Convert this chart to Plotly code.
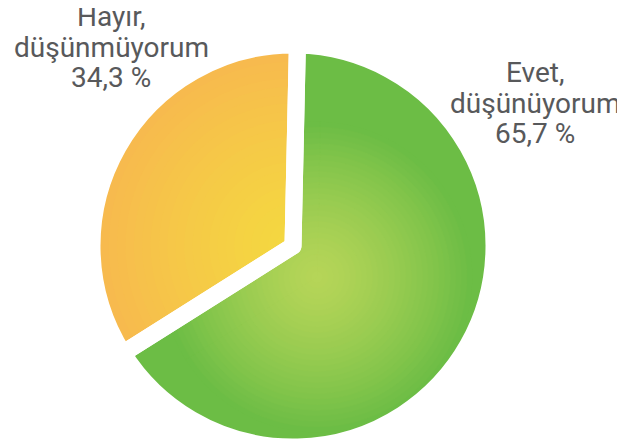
import plotly.graph_objects as go

# ---- data ----
labels = ["Evet, düşünüyorum", "Hayır, düşünmüyorum"]
values = [65.7, 34.3]
label_lines = [["Evet,", "düşünüyorum", "65,7 %"], ["Hayır,", "düşünmüyorum", "34,3 %"]]

W, H = 625, 446
OFF = 8              # page body margin offset
C = (293 - OFF, 246 - OFF)    # pie centre (px, figure coords)
R = 201              # outer radius (px)
GAP = 17             # white gap width
CG = (317 - OFF, 277 - OFF)   # green highlight centre
ROT = 1.25

green_in, green_out = (182, 213, 88), (108, 189, 69)
yel_in, yel_out = (244, 216, 64), (247, 186, 78)
TRANSP = "rgba(0,0,0,0)"


def rgb(c):
    return "rgb(%d,%d,%d)" % tuple(int(round(v)) for v in c)


def mix(a, b, t):
    return tuple(a[i] + (b[i] - a[i]) * t for i in range(3))


def dom(cx, cy, r):
    return dict(x=[max(0, (cx - r) / W), min(1, (cx + r) / W)],
                y=[max(0, (H - cy - r) / H), min(1, (H - cy + r) / H)])


def pie(cx, cy, r, colors, line_color=None, line_width=0):
    return go.Pie(
        labels=labels, values=values, sort=False, direction="clockwise",
        rotation=ROT, domain=dom(cx, cy, r), textinfo="none",
        hoverinfo="skip", showlegend=False,
        marker=dict(colors=colors,
                    line=dict(color=line_color if line_color else TRANSP,
                              width=line_width)),
    )


fig = go.Figure()

# base pie
fig.add_trace(pie(C[0], C[1], R, [rgb(green_out), rgb(yel_out)]))

# green radial highlight: discs centred on CG (clipped by the yellow wedge drawn after)
max_r = R - GAP / 2 - ((CG[0] - C[0]) ** 2 + (CG[1] - C[1]) ** 2) ** 0.5 + 2
n = 28
for k in range(n):
    r = max_r * (1 - k / n)
    t = (r / max_r) ** 1.35
    col = rgb(mix(green_in, green_out, t))
    fig.add_trace(pie(CG[0], CG[1], r, [col, col], line_color=[col, col], line_width=1))

# yellow wedge layers centred on C
ny = 24
for k in range(ny):
    r = R * (1 - k / ny)
    t = min(1.0, (r / (R - GAP / 2)) ** 1.3)
    col = rgb(mix(yel_in, yel_out, t))
    fig.add_trace(pie(C[0], C[1], r, [TRANSP, col]))

# white gap between slices
fig.add_trace(pie(C[0], C[1], R, [TRANSP, TRANSP], line_color="white", line_width=GAP))

# labels
font = dict(family="Roboto, 'Noto Sans', sans-serif", size=28, color="#58595b")
label_x = [535 - OFF, 111 - OFF]
label_y = [[65, 95, 126], [9, 39, 69]]
for i in range(2):
    for j, line in enumerate(label_lines[i]):
        fig.add_annotation(text=line, x=label_x[i] / W, y=1 - label_y[i][j] / H,
                           xref="paper", yref="paper", xanchor="center",
                           yanchor="middle", showarrow=False, font=font)

fig.update_layout(width=W, height=H, margin=dict(l=0, r=0, t=0, b=0),
                  paper_bgcolor="white", plot_bgcolor="white")
fig.write_html("out.html")
